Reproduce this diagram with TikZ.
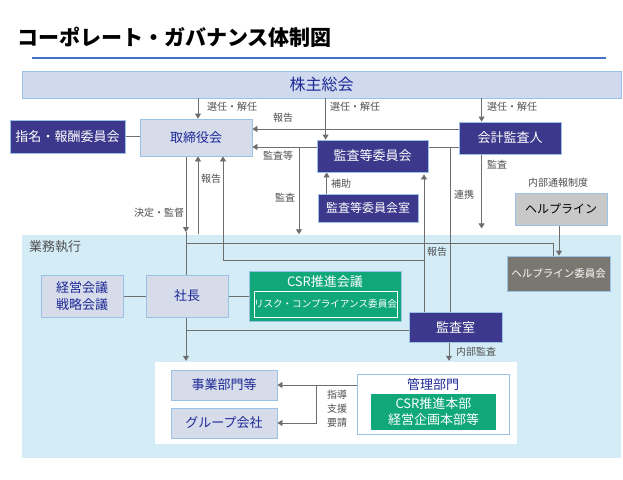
\documentclass[tikz,border=0pt]{standalone}
\usepackage{fontspec}
\setmainfont{Noto Sans CJK JP}
\usetikzlibrary{arrows.meta}
\pgfdeclarelayer{bg}\pgfdeclarelayer{ln}\pgfsetlayers{bg,ln,main}
\definecolor{dkfill}{RGB}{60,56,140}
\definecolor{grfill}{RGB}{16,168,120}
\definecolor{ltfill}{RGB}{214,220,234}
\definecolor{bord}{RGB}{155,194,230}
\definecolor{ltext}{RGB}{30,40,150}
\definecolor{bandA}{RGB}{208,218,238}
\definecolor{bandB}{RGB}{212,236,246}
\definecolor{hlfill}{RGB}{200,200,200}
\definecolor{hcfill}{RGB}{122,118,112}
\definecolor{lnc}{RGB}{110,110,110}
\definecolor{lblc}{RGB}{80,80,80}
\definecolor{tline}{RGB}{68,114,196}
\newcommand\fsz[2]{\fontsize{#1}{#2}\selectfont}
\begin{document}
\begin{tikzpicture}[x=1pt,y=-1pt,
  box/.style={draw=bord,line width=0.8pt,inner sep=0pt,align=center,font=\fsz{13}{17}},
  dbox/.style={box,fill=dkfill,text=white},
  lbox/.style={box,fill=ltfill,text=ltext},
  gbox/.style={box,fill=grfill,text=white},
  lbl/.style={inner sep=0pt,font=\fsz{10}{14},text=lblc,align=center},
  conn/.style={draw=lnc,line width=0.8pt},
  arr/.style={conn,-{Triangle[length=5pt,width=6pt]}}]
\useasboundingbox (0,0) rectangle (623,479);
\begin{pgfonlayer}{bg}
\fill[white] (0,0) rectangle (623,479);
\node[fill=bandA,draw=bord,line width=0.5pt,minimum width=599pt,minimum height=27pt,inner sep=0pt] (band1) at (321.5,84.5) {};
\node[fill=bandB,minimum width=599pt,minimum height=223pt,inner sep=0pt] (band2) at (321.5,346) {};
\node[fill=white,minimum width=362pt,minimum height=82pt,inner sep=0pt] (wr) at (336,403) {};
\end{pgfonlayer}
% title
\node[anchor=west,inner sep=0pt,font=\fsz{21}{24}\bfseries] (title) at (17,37) {コーポレート・ガバナンス体制図};
\coordinate (tl1) at (32,58); \coordinate (tl2) at (606,58);
\draw[tline,line width=1.6pt] (tl1) -- (tl2);
\node[text=ltext,font=\fsz{16}{18},inner sep=0pt] (kabu) at (band1.center) {株主総会};
% boxes
\node[dbox,minimum width=115pt,minimum height=33pt] (shimei) at (67.5,136.5) {指名・報酬委員会};
\node[lbox,minimum width=112pt,minimum height=37pt] (tori) at (196,137.5) {取締役会};
\node[dbox,minimum width=111pt,minimum height=32pt] (kansatou) at (372.5,156) {監査等委員会};
\node[dbox,minimum width=100pt,minimum height=28pt,font=\fsz{12}{14}] (shitsu) at (368,208) {監査等委員会室};
\node[dbox,minimum width=102pt,minimum height=32pt] (kaikei) at (510,138) {会計監査人};
\node[box,fill=hlfill,text=black,minimum width=92pt,minimum height=32pt,font=\fsz{12}{14}] (help) at (561,209) {ヘルプライン};
\node[lbl] (tsuho) at (558,183) {内部通報制度};
\node[lbl,anchor=west,font=\fsz{13}{15},text=lblc] (gyomu) at (29,247) {業務執行};
\node[lbox,minimum width=82pt,minimum height=42pt] (keiei) at (82,296) {経営会議\\戦略会議};
\node[lbox,minimum width=82pt,minimum height=42pt] (shacho) at (187,296) {社長};
\node[gbox,minimum width=152pt,minimum height=50pt] (csr) at (325,296) {};
\node[text=white,font=\fsz{13}{15},inner sep=0pt] (csrt) at (325,282) {CSR推進会議};
\node[draw=white,line width=0.6pt,minimum width=143pt,minimum height=26pt,inner sep=0pt,text=white,font=\fsz{9.6}{12}] (risk) at (325.5,304) {リスク・コンプライアンス委員会};
\node[box,fill=hcfill,text=white,minimum width=103pt,minimum height=35pt,font=\fsz{10.5}{12}] (hlcom) at (558.5,273.5) {ヘルプライン委員会};
\node[dbox,minimum width=93pt,minimum height=30pt] (kshitsu) at (455.5,327) {監査室};
\node[lbox,minimum width=106pt,minimum height=30pt] (jigyo) at (224,385) {事業部門等};
\node[lbox,minimum width=106pt,minimum height=30pt] (group) at (224,423) {グループ会社};
\node[box,fill=white,minimum width=152pt,minimum height=60pt] (kanri) at (433,404) {};
\node[text=ltext,font=\fsz{13}{15},inner sep=0pt] (kanrit) at (433,385) {管理部門};
\node[gbox,draw=none,minimum width=125pt,minimum height=36pt,font=\fsz{13}{16}] (kanrig) at (433.5,412) {CSR推進本部\\経営企画本部等};
% labels
\node[lbl,anchor=west] (l1) at (207,107) {選任・解任};
\node[lbl,anchor=west] (l2) at (330,107) {選任・解任};
\node[lbl,anchor=west] (l3) at (487,107) {選任・解任};
\node[lbl] (l4) at (283,118) {報告};
\node[lbl] (l5) at (278,156) {監査等};
\node[lbl] (l6) at (285,198) {監査};
\node[lbl] (l7) at (341,184) {補助};
\node[lbl] (l8) at (464,195) {連携};
\node[lbl] (l9) at (497,165) {監査};
\node[lbl] (l10) at (159,213) {決定・監督};
\node[lbl] (l11) at (211,179) {報告};
\node[lbl] (l12) at (437,252) {報告};
\node[lbl] (l13) at (476,352) {内部監査};
\node[lbl,font=\fsz{10}{14}] (l14) at (337,409) {指導\\支援\\要請};
% connectors
\begin{pgfonlayer}{ln}
\coordinate (k1) at ([xshift=2pt]tori.north);
\coordinate (k2) at ([xshift=9pt]kansatou.north west);
\coordinate (k3) at ([xshift=23pt]kaikei.north west);
\draw[arr] (k1 |- band1.south) -- (k1);
\draw[arr] (k2 |- band1.south) -- (k2);
\draw[arr] (k3 |- band1.south) -- (k3);
\draw[conn] (shimei.east) -- (shimei.east -| tori.west);
\coordinate (r1) at ([yshift=9pt]kaikei.west);
\draw[arr] (r1) -- (r1 -| tori.east);
\coordinate (r2) at ([yshift=-9pt]kaikei.west);
\draw[conn] (r2) -- (r2 -| kansatou.east);
\draw[arr] (r2 -| kansatou.west) -- (r2 -| tori.east);
\coordinate (kb) at (299,147);
\draw[arr] (kb) -- (kb |- band2.north);
\coordinate (h1) at ([xshift=9pt]shitsu.north west);
\draw[arr] (h1) -- (h1 |- kansatou.south);
\coordinate (rk) at (450,147);
\draw[conn] (rk) -- (rk |- kshitsu.north);
\coordinate (ka) at ([xshift=23pt]kaikei.south west);
\draw[arr] (ka) -- ++(0,74);
\coordinate (rr) at (424,312);
\draw[arr] (rr) -- ([yshift=-2pt]rr |- kansatou.south);
\coordinate (rb) at (424,260);
\coordinate (t3) at ([xshift=27pt]tori.south);
\draw[arr] (rb) -| (t3);
\coordinate (t2) at ([xshift=2pt]tori.south);
\draw[arr] (t2 |- band2.north) -- (t2);
\coordinate (t1) at ([xshift=-10pt]tori.south);
\coordinate (d1) at (186,232);
\draw[arr] (t1) -- (d1);
\draw[arr] (d1) -- ([yshift=1pt]d1 |- wr.north);
\coordinate (d2) at (186,243);
\coordinate (hc) at ([xshift=-5.5pt]hlcom.north);
\draw[conn] (d2) -| (hc);
\coordinate (hl) at ([xshift=-2pt]help.south);
\draw[arr] (hl) -- (hl |- hlcom.north);
\coordinate (d3) at (186,330);
\draw[conn] (d3) -- (d3 -| kshitsu.west);
\draw[conn] (shacho.east) -- (csr.west);
\draw[conn] (keiei.east) -- (shacho.west);
\coordinate (na) at ([xshift=-6.5pt]kshitsu.south);
\draw[arr] (na) -- ([yshift=1pt]na |- wr.north);
\draw[arr] (kanri.west |- jigyo.east) -- (jigyo.east);
\coordinate (kv) at (316,385);
\draw[arr] (kv) |- (group.east);
\end{pgfonlayer}
\end{tikzpicture}
\end{document}
